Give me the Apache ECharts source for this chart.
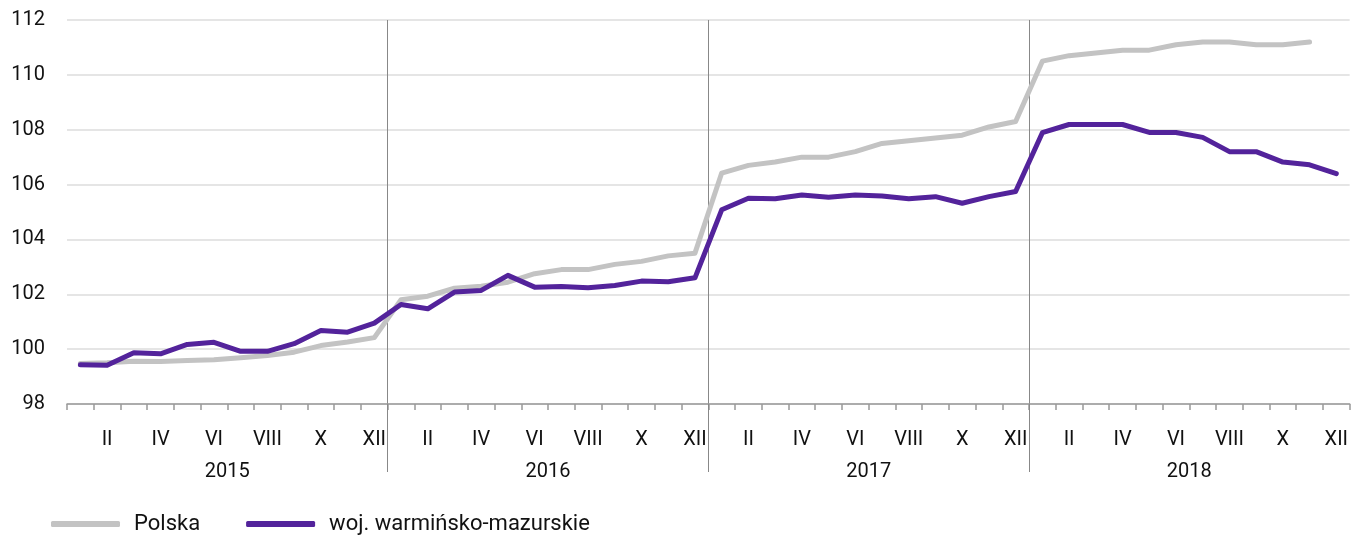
<!DOCTYPE html>
<html>
<head>
<meta charset="utf-8">
<script src="https://cdn.jsdelivr.net/npm/echarts@6/dist/echarts.min.js"></script>
<style>
  html, body { margin: 0; padding: 0; background: #fff; }
  #chart { width: 1351px; height: 538px; }
</style>
</head>
<body>
<div id="chart"></div>
<script>
// months (roman), years
const romans = ['I', 'II', 'III', 'IV', 'V', 'VI', 'VII', 'VIII', 'IX', 'X', 'XI', 'XII']
const years = ['2015', '2016', '2017', '2018']
const months = []
years.forEach(y => romans.forEach(r => months.push(y + ' ' + r)))

const polska = [
  99.48, 99.5, 99.56, 99.55, 99.59, 99.61, 99.69, 99.77, 99.89, 100.13, 100.26, 100.42,
  101.8, 101.93, 102.22, 102.29, 102.44, 102.75, 102.9, 102.9, 103.09, 103.2, 103.4, 103.5,
  106.42, 106.7, 106.82, 107.0, 107.0, 107.2, 107.5, 107.6, 107.7, 107.8, 108.1, 108.3,
  110.5, 110.7, 110.8, 110.9, 110.9, 111.1, 111.2, 111.2, 111.1, 111.1, 111.2, null
]
const warminsko = [
  99.43, 99.41, 99.87, 99.83, 100.17, 100.25, 99.92, 99.92, 100.2, 100.68, 100.62, 100.95,
  101.63, 101.47, 102.08, 102.14, 102.69, 102.26, 102.28, 102.24, 102.32, 102.48, 102.46, 102.6,
  105.08, 105.5, 105.48, 105.62, 105.54, 105.62, 105.58, 105.48, 105.56, 105.32, 105.56, 105.75,
  107.89, 108.19, 108.19, 108.19, 107.9, 107.9, 107.72, 107.2, 107.2, 106.82, 106.72, 106.4
]

const font = 'Roboto'
const chart = echarts.init(document.getElementById('chart'))
chart.setOption({
  animation: false,
  textStyle: {fontFamily: font},
  grid: {left: 67, right: 0, top: 20, bottom: 134, containLabel: false},
  legend: {
    left: 46,
    top: 508,
    itemWidth: 69,
    itemHeight: 6,
    itemGap: 46,
    icon: 'roundRect',
    textStyle: {fontSize: 22, color: '#111', fontFamily: font, padding: [0, 0, 0, 9]},
    data: ['Polska', 'woj. warmińsko-mazurskie']
  },
  xAxis: [
    {
      type: 'category',
      data: months,
      boundaryGap: true,
      axisLine: {lineStyle: {color: '#999', width: 1.5}},
      axisTick: {show: true, interval: 0, length: 6, lineStyle: {color: '#999', width: 1.5}},
      axisLabel: {
        interval: (i) => i % 2 === 1,
        margin: 26,
        fontSize: 20,
        color: '#111',
        formatter: (v) => v.split(' ')[1]
      },
      splitLine: {show: false}
    },
    {
      // year separators and year labels
      type: 'value',
      min: 0,
      max: 48,
      interval: 12,
      position: 'bottom',
      axisLine: {show: false},
      axisTick: {show: true, customValues: [12, 24, 36], length: 68, lineStyle: {color: '#888', width: 1}},
      axisLabel: {
        customValues: [6, 18, 30, 42],
        margin: 58,
        fontSize: 20,
        color: '#111',
        formatter: (v) => years[Math.round((v - 6) / 12)]
      },
      splitLine: {show: true, lineStyle: {color: '#888', width: 1}}
    }
  ],
  yAxis: {
    type: 'value',
    min: 98,
    max: 112,
    interval: 2,
    axisLine: {show: false},
    axisTick: {show: false},
    axisLabel: {fontSize: 20, color: '#111', margin: 22},
    splitLine: {lineStyle: {color: '#dcdcdc', width: 1.5}}
  },
  series: [
    {
      name: 'Polska',
      type: 'line',
      data: polska,
      symbol: 'none',
      color: '#c3c3c3',
      lineStyle: {width: 5, cap: 'round', join: 'round'},
      z: 2
    },
    {
      name: 'woj. warmińsko-mazurskie',
      type: 'line',
      data: warminsko,
      symbol: 'none',
      color: '#53239b',
      lineStyle: {width: 5, cap: 'round', join: 'round'},
      z: 3
    }
  ]
})
</script>
</body>
</html>
